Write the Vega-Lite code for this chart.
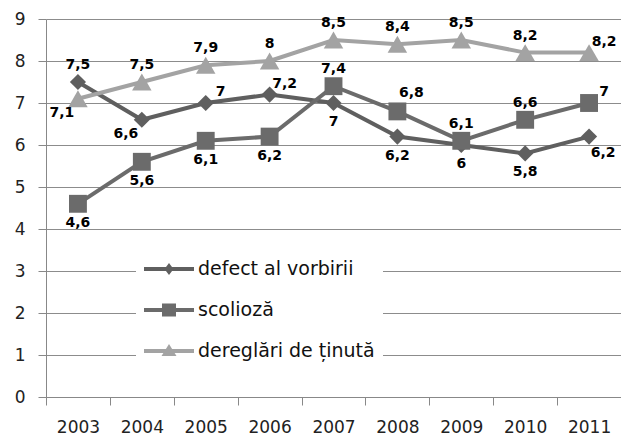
{
  "$schema": "https://vega.github.io/schema/vega-lite/v6.json",
  "width": 575,
  "height": 378,
  "autosize": {"type": "none"},
  "padding": {"left": 46, "top": 19, "right": 0, "bottom": 43},
  "background": "white",
  "config": {
    "view": {"stroke": null},
    "locale": {"number": {"decimal": ",", "thousands": ".", "grouping": [3], "currency": ["", ""]}},
    "axis": {"labelFont": "DejaVu Sans", "labelFontSize": 17, "labelColor": "#222222", "domainColor": "#888888", "tickColor": "#888888", "gridColor": "#8c8c8c", "title": null}
  },
  "data": {
    "values": [
      {"year": 2003, "series": "defect al vorbirii", "value": 7.5},
      {"year": 2004, "series": "defect al vorbirii", "value": 6.6},
      {"year": 2005, "series": "defect al vorbirii", "value": 7},
      {"year": 2006, "series": "defect al vorbirii", "value": 7.2},
      {"year": 2007, "series": "defect al vorbirii", "value": 7},
      {"year": 2008, "series": "defect al vorbirii", "value": 6.2},
      {"year": 2009, "series": "defect al vorbirii", "value": 6},
      {"year": 2010, "series": "defect al vorbirii", "value": 5.8},
      {"year": 2011, "series": "defect al vorbirii", "value": 6.2},
      {"year": 2003, "series": "scolioză", "value": 4.6},
      {"year": 2004, "series": "scolioză", "value": 5.6},
      {"year": 2005, "series": "scolioză", "value": 6.1},
      {"year": 2006, "series": "scolioză", "value": 6.2},
      {"year": 2007, "series": "scolioză", "value": 7.4},
      {"year": 2008, "series": "scolioză", "value": 6.8},
      {"year": 2009, "series": "scolioză", "value": 6.1},
      {"year": 2010, "series": "scolioză", "value": 6.6},
      {"year": 2011, "series": "scolioză", "value": 7},
      {"year": 2003, "series": "dereglări de ținută", "value": 7.1},
      {"year": 2004, "series": "dereglări de ținută", "value": 7.5},
      {"year": 2005, "series": "dereglări de ținută", "value": 7.9},
      {"year": 2006, "series": "dereglări de ținută", "value": 8},
      {"year": 2007, "series": "dereglări de ținută", "value": 8.5},
      {"year": 2008, "series": "dereglări de ținută", "value": 8.4},
      {"year": 2009, "series": "dereglări de ținută", "value": 8.5},
      {"year": 2010, "series": "dereglări de ținută", "value": 8.2},
      {"year": 2011, "series": "dereglări de ținută", "value": 8.2}
    ]
  },
  "encoding": {
    "x": {"field": "year", "type": "ordinal", "scale": {"type": "band", "paddingInner": 0, "paddingOuter": 0},
      "axis": {"labelAngle": 0, "tickBand": "extent", "tickSize": 8, "labelPadding": 14, "grid": false}},
    "y": {"field": "value", "type": "quantitative", "scale": {"domain": [0, 9], "nice": false},
      "axis": {"values": [0,1,2,3,4,5,6,7,8,9], "tickSize": 8, "labelPadding": 13, "grid": true}}
  },
  "layer": [
    {
      "mark": {"type": "line", "strokeWidth": 4},
      "encoding": {
        "color": {"field": "series", "type": "nominal",
          "scale": {"domain": ["defect al vorbirii", "scolioză", "dereglări de ținută"], "range": ["#5f5f5f", "#6b6b6b", "#a3a3a3"]},
          "legend": {
            "orient": "none", "legendX": 90, "legendY": 232, "title": null,
            "fillColor": "white", "padding": 8, "symbolSize": 400, "symbolStrokeWidth": 0, "symbolType": "square",
            "labelFont": "DejaVu Sans", "labelFontSize": 19, "labelColor": "#111111", "labelOffset": 34,
            "rowPadding": 21, "labelLimit": 400,
            "encode": {"symbols": {"update": {
              "fill": {"signal": "datum.value === 'dereglări de ținută' ? '#a3a3a3' : (datum.value === 'scolioză' ? '#6b6b6b' : '#5f5f5f')"},
              "stroke": {"value": null},
              "shape": {"signal": "datum.value === 'defect al vorbirii' ? 'M-1,-0.2L4,-0.2L4,0.2L-1,0.2Z M1.5,-0.6L1.95,0L1.5,0.6L1.05,0Z' : (datum.value === 'scolioză' ? 'M-1,-0.2L4,-0.2L4,0.2L-1,0.2Z M0.8,-0.65L2.2,-0.65L2.2,0.65L0.8,0.65Z' : 'M-1,-0.2L4,-0.2L4,0.2L-1,0.2Z M1.5,-0.7L2.25,0.5L0.75,0.5Z')"}}}}
          }},
        "detail": {"field": "series"}
      }
    },
    {
      "mark": {"type": "point", "filled": true, "opacity": 1},
      "encoding": {
        "color": {"field": "series", "type": "nominal"},
        "shape": {"condition": [{"test": "datum.series == 'scolioză'", "value": "square"}, {"test": "datum.series == 'dereglări de ținută'", "value": "triangle-up"}], "value": "diamond"},
        "size": {"condition": [{"test": "datum.series == 'scolioză'", "value": 320}, {"test": "datum.series == 'dereglări de ținută'", "value": 380}], "value": 260}
      }
    },
    {
      "transform": [{"filter": "(datum.series=='defect al vorbirii' && datum.year==2003) || (datum.series=='scolioză' && (datum.year==2007 || datum.year==2009 || datum.year==2010)) || (datum.series=='dereglări de ținută' && datum.year>=2004 && datum.year<=2010)"}],
      "mark": {"type": "text", "font": "DejaVu Sans", "fontWeight": "bold", "fontSize": 14, "color": "#000000", "baseline": "middle", "dy": -17},
      "encoding": {"text": {"field": "value", "type": "quantitative", "format": "~g"}}
    },
    {
      "transform": [{"filter": "(datum.series=='defect al vorbirii' && datum.year>=2007 && datum.year<=2010) || (datum.series=='scolioză' && datum.year<=2006)"}],
      "mark": {"type": "text", "font": "DejaVu Sans", "fontWeight": "bold", "fontSize": 14, "color": "#000000", "baseline": "middle", "dy": 19},
      "encoding": {"text": {"field": "value", "type": "quantitative", "format": "~g"}}
    },
    {
      "transform": [{"filter": "(datum.series=='defect al vorbirii' && (datum.year==2005 || datum.year==2006)) || (datum.series=='scolioză' && datum.year==2011) || (datum.series=='dereglări de ținută' && datum.year==2011)"}],
      "mark": {"type": "text", "font": "DejaVu Sans", "fontWeight": "bold", "fontSize": 14, "color": "#000000", "baseline": "middle", "dx": 15, "dy": -11},
      "encoding": {"text": {"field": "value", "type": "quantitative", "format": "~g"}}
    },
    {
      "transform": [{"filter": "datum.series=='scolioză' && datum.year==2008"}],
      "mark": {"type": "text", "font": "DejaVu Sans", "fontWeight": "bold", "fontSize": 14, "color": "#000000", "baseline": "middle", "dx": 14, "dy": -18},
      "encoding": {"text": {"field": "value", "type": "quantitative", "format": "~g"}}
    },
    {
      "transform": [{"filter": "(datum.series=='dereglări de ținută' && datum.year==2003) || (datum.series=='defect al vorbirii' && datum.year==2004)"}],
      "mark": {"type": "text", "font": "DejaVu Sans", "fontWeight": "bold", "fontSize": 14, "color": "#000000", "baseline": "middle", "dx": -16, "dy": 14},
      "encoding": {"text": {"field": "value", "type": "quantitative", "format": "~g"}}
    },
    {
      "transform": [{"filter": "datum.series=='defect al vorbirii' && datum.year==2011"}],
      "mark": {"type": "text", "font": "DejaVu Sans", "fontWeight": "bold", "fontSize": 14, "color": "#000000", "baseline": "middle", "dx": 14, "dy": 16},
      "encoding": {"text": {"field": "value", "type": "quantitative", "format": "~g"}}
    }
  ]
}
